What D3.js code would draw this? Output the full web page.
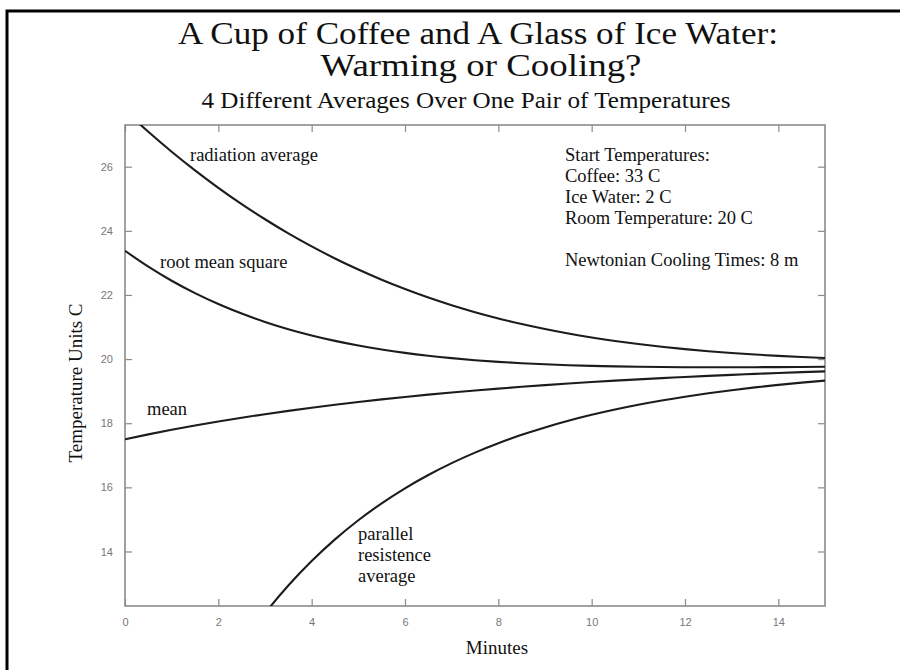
<!DOCTYPE html>
<html>
<head>
<meta charset="utf-8">
<script src="https://cdn.jsdelivr.net/npm/d3@7"></script>
<style>
  html, body { margin: 0; padding: 0; background: #fff; }
  svg { display: block; }
  text { font-family: "Liberation Serif", "Times New Roman", serif; fill: #111; }
  .tick-label { font-family: "Liberation Sans", Arial, sans-serif; fill: #777; font-size: 11px; }
</style>
</head>
<body>
<svg id="chart" width="900" height="670"></svg>
<script>
// Time axis (minutes) and the four averages of the coffee / ice-water pair (°C)
const minutes = [0, 0.5, 1, 1.5, 2, 2.5, 3, 3.5, 4, 4.5, 5, 5.5, 6, 6.5, 7, 7.5,
  8, 8.5, 9, 9.5, 10, 10.5, 11, 11.5, 12, 12.5, 13, 13.5, 14, 14.5, 15];

const radiationAvg = [27.750, 27.088, 26.467, 25.886, 25.341, 24.833, 24.361, 23.921,
  23.514, 23.138, 22.792, 22.475, 22.185, 21.920, 21.680, 21.464, 21.269, 21.093,
  20.937, 20.797, 20.674, 20.565, 20.468, 20.384, 20.310, 20.246, 20.190, 20.142,
  20.101, 20.066, 20.036];

const rootMeanSquare = [23.377, 22.882, 22.444, 22.057, 21.717, 21.419, 21.159, 20.933,
  20.737, 20.568, 20.423, 20.299, 20.193, 20.104, 20.029, 19.966, 19.914, 19.872,
  19.837, 19.810, 19.789, 19.772, 19.760, 19.752, 19.747, 19.745, 19.745, 19.747,
  19.750, 19.755, 19.760];

const meanTemp = [17.500, 17.652, 17.794, 17.927, 18.053, 18.171, 18.282, 18.386,
  18.484, 18.576, 18.662, 18.743, 18.819, 18.891, 18.958, 19.021, 19.080, 19.136,
  19.188, 19.238, 19.284, 19.327, 19.368, 19.406, 19.442, 19.476, 19.508, 19.538,
  19.566, 19.592, 19.617];

const parallelAvg = [3.771, 5.640, 7.279, 8.717, 9.981, 11.094, 12.074, 12.939,
  13.702, 14.377, 14.973, 15.502, 15.971, 16.386, 16.756, 17.084, 17.376, 17.637,
  17.869, 18.076, 18.261, 18.427, 18.575, 18.708, 18.827, 18.934, 19.030, 19.117,
  19.195, 19.265, 19.328];

const xTicks = [0, 2, 4, 6, 8, 10, 12, 14];
const yTicks = [14, 16, 18, 20, 22, 24, 26];

const titleLines = ["A Cup of Coffee and A Glass of Ice Water:", "Warming or Cooling?"];
const subtitle = "4 Different Averages Over One Pair of Temperatures";
const xLabel = "Minutes";
const yLabel = "Temperature Units C";
const infoLines = ["Start Temperatures:", "Coffee: 33 C", "Ice Water: 2 C", "Room Temperature: 20 C"];
const infoExtra = "Newtonian Cooling Times: 8 m";

const series = [
  { name: "radiation", values: radiationAvg, label: ["radiation average"], at: [190, 161] },
  { name: "rms", values: rootMeanSquare, label: ["root mean square"], at: [160, 268] },
  { name: "mean", values: meanTemp, label: ["mean"], at: [147, 415] },
  { name: "parallel", values: parallelAvg, label: ["parallel", "resistence", "average"], at: [358, 540] }
];

const svg = d3.select("#chart");

// page frame (top and left edges only)
svg.append("path")
  .attr("d", "M7,670 L7,11 L900,11")
  .attr("fill", "none").attr("stroke", "#000").attr("stroke-width", 3);

const plot = { left: 125, right: 825, top: 125, bottom: 606 };

const x = d3.scaleLinear().domain([0, 15]).range([plot.left, plot.right]);
const y = d3.scaleLinear().domain([12.3, 27.3]).range([plot.bottom, plot.top]);

svg.append("clipPath").attr("id", "plot-clip")
  .append("rect")
  .attr("x", plot.left).attr("y", plot.top)
  .attr("width", plot.right - plot.left).attr("height", plot.bottom - plot.top);

// axes: ticks point inward on all four sides, labels only on left and bottom
const tickLen = 7;
const axisColor = "#8a8a8a";

const bottomAxis = d3.axisBottom(x).tickValues(xTicks).tickSizeInner(-tickLen).tickSizeOuter(0).tickPadding(12);
const topAxis = d3.axisTop(x).tickValues(xTicks).tickSizeInner(-tickLen).tickSizeOuter(0).tickFormat("");
const leftAxis = d3.axisLeft(y).tickValues(yTicks).tickSizeInner(-tickLen).tickSizeOuter(0).tickPadding(12);
const rightAxis = d3.axisRight(y).tickValues(yTicks).tickSizeInner(-tickLen).tickSizeOuter(0).tickFormat("");

function styleAxis(g) {
  g.select(".domain").remove();
  g.selectAll(".tick line").attr("stroke", axisColor).attr("stroke-width", 1.2);
  g.selectAll(".tick text").attr("class", "tick-label").attr("fill", "#777");
}

svg.append("g").attr("transform", `translate(0,${plot.bottom})`).call(bottomAxis).call(styleAxis);
svg.append("g").attr("transform", `translate(0,${plot.top})`).call(topAxis).call(styleAxis);
svg.append("g").attr("transform", `translate(${plot.left},0)`).call(leftAxis).call(styleAxis);
svg.append("g").attr("transform", `translate(${plot.right},0)`).call(rightAxis).call(styleAxis);

svg.selectAll(".tick-label").style("font-family", "'Liberation Sans', Arial, sans-serif").style("font-size", "11px");

// box
svg.append("rect")
  .attr("x", plot.left).attr("y", plot.top)
  .attr("width", plot.right - plot.left).attr("height", plot.bottom - plot.top)
  .attr("fill", "none").attr("stroke", axisColor).attr("stroke-width", 1.6);

// curves
const line = d3.line()
  .x((d, i) => x(minutes[i]))
  .y(d => y(d))
  .curve(d3.curveMonotoneX);

svg.append("g").attr("clip-path", "url(#plot-clip)")
  .selectAll("path")
  .data(series)
  .join("path")
  .attr("d", d => line(d.values))
  .attr("fill", "none")
  .attr("stroke", "#1c1c1c")
  .attr("stroke-width", 2.1)
  .attr("stroke-linejoin", "round");

// curve labels
series.forEach(s => {
  const t = svg.append("text")
    .attr("x", s.at[0]).attr("y", s.at[1])
    .style("font-size", "18.5px");
  s.label.forEach((str, i) => {
    t.append("tspan").attr("x", s.at[0]).attr("dy", i === 0 ? 0 : 21).text(str);
  });
});

// starting conditions note
const info = svg.append("text").attr("x", 565).attr("y", 161).style("font-size", "18.5px");
infoLines.forEach((str, i) => {
  info.append("tspan").attr("x", 565).attr("dy", i === 0 ? 0 : 21).text(str);
});
svg.append("text").attr("x", 565).attr("y", 266).style("font-size", "18.5px").text(infoExtra);

// titles
svg.append("text").attr("x", 478).attr("y", 44).attr("text-anchor", "middle")
  .attr("textLength", 600).attr("lengthAdjust", "spacingAndGlyphs")
  .style("font-size", "31px").text(titleLines[0]);
svg.append("text").attr("x", 481).attr("y", 76).attr("text-anchor", "middle")
  .attr("textLength", 321).attr("lengthAdjust", "spacingAndGlyphs")
  .style("font-size", "31px").text(titleLines[1]);
svg.append("text").attr("x", 466).attr("y", 108).attr("text-anchor", "middle")
  .attr("textLength", 529).attr("lengthAdjust", "spacingAndGlyphs")
  .style("font-size", "24px").text(subtitle);

// axis titles
svg.append("text").attr("x", 497).attr("y", 654).attr("text-anchor", "middle")
  .style("font-size", "19px").text(xLabel);
svg.append("text")
  .attr("transform", "translate(82,383) rotate(-90)")
  .attr("text-anchor", "middle")
  .style("font-size", "19px").text(yLabel);
</script>
</body>
</html>
